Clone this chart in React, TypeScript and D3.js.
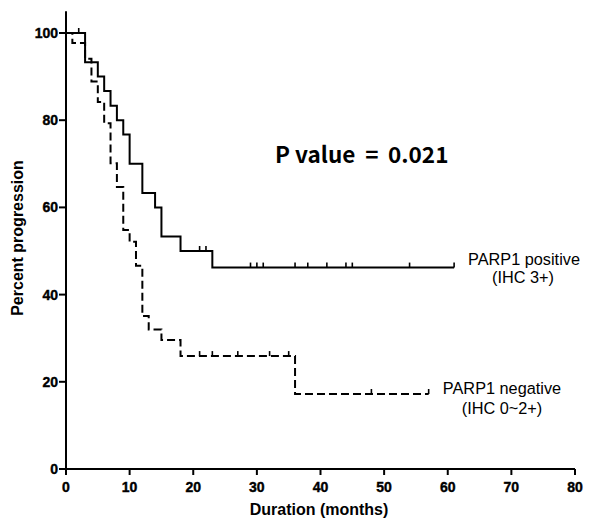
import React from "react";
import * as d3 from "d3";

// Kaplan-Meier data
const posTimes = [0, 3, 5, 6, 7, 8, 9, 10, 12, 14, 15, 18, 23];
const posSurv = [100, 93.3, 90, 86.7, 83.3, 80, 76.7, 70, 63.3, 60, 53.3, 50, 46.2];
const posCensor = [2, 21, 22, 29, 30, 31, 36, 38, 41, 44, 45, 54, 61];
const posEnd = 61;

const negTimes = [0, 1, 3, 4, 5, 6, 7, 8, 9, 10, 11, 12, 13, 15, 18, 36];
const negSurv = [100, 97.7, 94.1, 88.9, 84.2, 79.3, 70.1, 64.7, 54.8, 52.1, 46.6, 35.1, 32.0, 29.6, 25.9, 17.2];
const negCensor = [21, 23, 27, 32, 35, 48, 57];
const negEnd = 57;

const xTicks = [0, 10, 20, 30, 40, 50, 60, 70, 80];
const yTicks = [0, 20, 40, 60, 80, 100];

const W = 600;
const H = 529;

function survAt(times: number[], surv: number[], t: number) {
  let v = surv[0];
  for (let i = 0; i < times.length; i++) if (times[i] <= t) v = surv[i];
  return v;
}

export default function App() {
  const x = d3.scaleLinear().domain([0, 80]).range([66, 575]);
  const y = d3.scaleLinear().domain([0, 100]).range([469, 33]);

  const line = d3
    .line<[number, number]>()
    .x((d) => x(d[0]))
    .y((d) => y(d[1]))
    .curve(d3.curveStepAfter);

  const posPts: [number, number][] = posTimes.map((t, i) => [t, posSurv[i]]);
  posPts.push([posEnd, posSurv[posSurv.length - 1]]);
  const negPts: [number, number][] = negTimes.map((t, i) => [t, negSurv[i]]);
  negPts.push([negEnd, negSurv[negSurv.length - 1]]);

  const bold = "'Liberation Sans', Arial, sans-serif";
  const pFont = "'Noto Sans CJK KR', 'Noto Sans', sans-serif";

  return (
    <svg width={W} height={H} style={{ position: "absolute", left: 0, top: 0, background: "#fff" }}>
      <rect x={0} y={0} width={W} height={H} fill="#fff" />
      {/* axes */}
      <g stroke="#000" strokeWidth={2} fill="none">
        <line x1={x(0)} x2={x(0)} y1={y(105)} y2={y(0)} />
        <line x1={x(0)} x2={x(80)} y1={y(0)} y2={y(0)} />
        {yTicks.map((t) => (
          <line key={"yt" + t} x1={x(0) - 7} x2={x(0)} y1={y(t)} y2={y(t)} />
        ))}
        {xTicks.map((t) => (
          <line key={"xt" + t} x1={x(t)} x2={x(t)} y1={y(0)} y2={y(0) + 6} />
        ))}
      </g>
      <g fontFamily={bold} fontWeight="bold" fontSize={14} fill="#000" stroke="#000" strokeWidth={0.4}>
        {yTicks.map((t) => (
          <text key={"yl" + t} x={x(0) - 8} y={y(t) + 5} textAnchor="end">
            {t}
          </text>
        ))}
        {xTicks.map((t) => (
          <text key={"xl" + t} x={x(t)} y={492} textAnchor="middle">
            {t}
          </text>
        ))}
      </g>
      <text
        transform={`translate(23,238) rotate(-90)`}
        textAnchor="middle"
        fontFamily={bold}
        fontWeight="bold"
        fontSize={16}
      >
        Percent progression
      </text>
      <text x={319} y={515} textAnchor="middle" fontFamily={bold} fontWeight="bold" fontSize={16}>
        Duration (months)
      </text>

      {/* curves */}
      <path d={line(negPts) || ""} fill="none" stroke="#000" strokeWidth={2} strokeDasharray="8,4" />
      <path d={line(posPts) || ""} fill="none" stroke="#000" strokeWidth={2} />
      <g stroke="#000" strokeWidth={1.6}>
        {posCensor.map((t, i) => {
          const v = survAt(posTimes, posSurv, t);
          return <line key={"pc" + i} x1={x(t)} x2={x(t)} y1={y(v)} y2={y(v) - 5} />;
        })}
        {negCensor.map((t, i) => {
          const v = survAt(negTimes, negSurv, t);
          return <line key={"nc" + i} x1={x(t)} x2={x(t)} y1={y(v)} y2={y(v) - 5} />;
        })}
      </g>

      {/* annotations */}
      <g fontFamily={pFont} fontWeight="bold" fontSize={22.5} fill="#000">
        <text x={275} y={163}>P value</text>
        <text x={372} y={163} textAnchor="middle">=</text>
        <text x={388} y={163}>0.021</text>
      </g>
      <g fontFamily={bold} fontSize={16.3} fill="#000" textAnchor="middle">
        <text x={524} y={265}>PARP1 positive</text>
        <text x={523} y={283}>(IHC 3+)</text>
        <text x={502} y={394}>PARP1 negative</text>
        <text x={502} y={414}>(IHC 0~2+)</text>
      </g>
    </svg>
  );
}
